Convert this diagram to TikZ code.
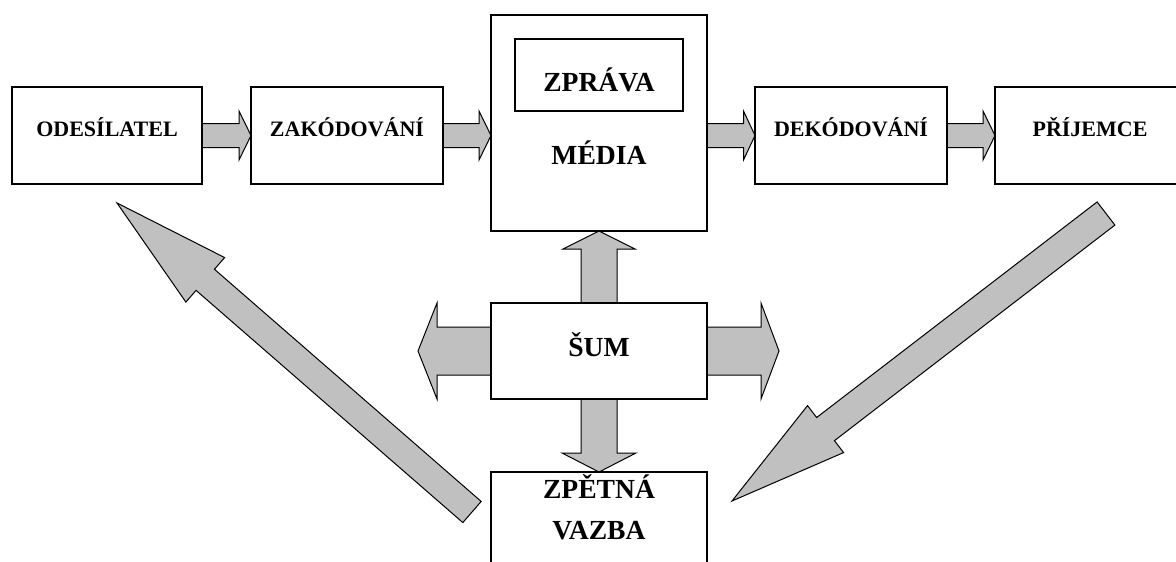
\documentclass[tikz,border=0pt]{standalone}
\usepackage{fontspec}
\setmainfont{Liberation Serif}
\usetikzlibrary{calc}
\definecolor{arrgray}{HTML}{C0C0C0}
\tikzset{
  box/.style={draw=black, line width=1.6pt, fill=white, rectangle, inner sep=0pt, outer sep=0pt},
  barrow/.style={draw=black, line width=1pt, fill=arrgray, line join=miter},
  small/.style={font=\fontsize{22}{26}\selectfont\bfseries, inner sep=0pt, anchor=base},
  large/.style={font=\fontsize{27.6}{32}\selectfont\bfseries, inner sep=0pt, anchor=base},
}
\newcommand\blockarr[6][]{%
  \coordinate (bah) at ($(#3)!#6!(#2)$);
  \draw[barrow,#1] ($(#2)!#4!90:(#3)$) -- ($(bah)!#4!90:(#3)$) -- ($(bah)!#5!90:(#3)$) -- (#3)
    -- ($(bah)!#5!-90:(#3)$) -- ($(bah)!#4!-90:(#3)$) -- ($(#2)!#4!-90:(#3)$) -- cycle;
}
\begin{document}
\begin{tikzpicture}[x=1pt,y=-1pt]
\useasboundingbox (0,0) rectangle (1176,562);
\clip (0,0) rectangle (1176,562);
% boxes (positions)
\path
  (107,135.5) coordinate (codes)
  (347,135.5) coordinate (czak)
  (599,123) coordinate (cmedia)
  (851,135.5) coordinate (cdek)
  (1090,135.5) coordinate (cprij)
  (599,351) coordinate (csum)
  (599,520.5) coordinate (czpet);
\node[box, minimum width=190pt, minimum height=97pt] (odes) at (codes) {};
\node[box, minimum width=192pt, minimum height=97pt] (zak) at (czak) {};
\node[box, minimum width=216pt, minimum height=216pt] (media) at (cmedia) {};
\node[box, minimum width=192pt, minimum height=97pt] (dek) at (cdek) {};
\node[box, minimum width=190pt, minimum height=97pt] (prij) at (cprij) {};
\node[box, minimum width=216pt, minimum height=96pt] (sum) at (csum) {};
\node[box, minimum width=216pt, minimum height=97pt] (zpet) at (czpet) {};
\node[box, minimum width=168pt, minimum height=72pt] (zprava) at (599,75) {};
% free ends and auxiliary points
\coordinate (m2in) at (zak.east -| media.west);
\coordinate (m3out) at (dek.west -| media.east);
\coordinate (nl) at (418,351);
\coordinate (nr) at (779,351);
\coordinate (fbtail) at (472,512);
\coordinate (fbtip) at (117,203);
\coordinate (rtail) at (1106,213.5);
\coordinate (rtip) at (732,501);
% block arrows
\blockarr{odes.east}{zak.west}{12pt}{24.5pt}{12pt}
\blockarr{zak.east}{m2in}{12pt}{24.5pt}{12pt}
\blockarr{m3out}{dek.west}{12pt}{24.5pt}{11.5pt}
\blockarr{dek.east}{prij.west}{12pt}{24.5pt}{12pt}
\blockarr{sum.north}{media.south}{18pt}{36pt}{18pt}
\blockarr{sum.south}{zpet.north}{18pt}{37pt}{19pt}
\blockarr{sum.west}{nl}{24pt}{48pt}{19pt}
\blockarr{sum.east}{nr}{24pt}{48pt}{18pt}
\blockarr{fbtail}{fbtip}{14pt}{29.5pt}{117pt}
\blockarr{rtail}{rtip}{14.6pt}{29.6pt}{118pt}
% redraw box borders on top
\foreach \n in {odes,zak,media,dek,prij,sum,zpet}{
  \draw[line width=1.6pt] (\n.south west) rectangle (\n.north east);
}
% labels
\node[small] (todes) at (107,136.5) {ODESÍLATEL};
\node[small] (tzak) at (347,136.5) {ZAKÓDOVÁNÍ};
\node[small] (tdek) at (851,136.5) {DEKÓDOVÁNÍ};
\node[small] (tprij) at (1090,136.5) {PŘÍJEMCE};
\node[large] (tzprava) at (599,91.5) {ZPRÁVA};
\node[large] (tmedia) at (599,164) {MÉDIA};
\node[large] (tsum) at (599,356) {ŠUM};
\node[large] (tzpet1) at (599,498) {ZPĚTNÁ};
\node[large] (tzpet2) at (599,539) {VAZBA};
\end{tikzpicture}
\end{document}
